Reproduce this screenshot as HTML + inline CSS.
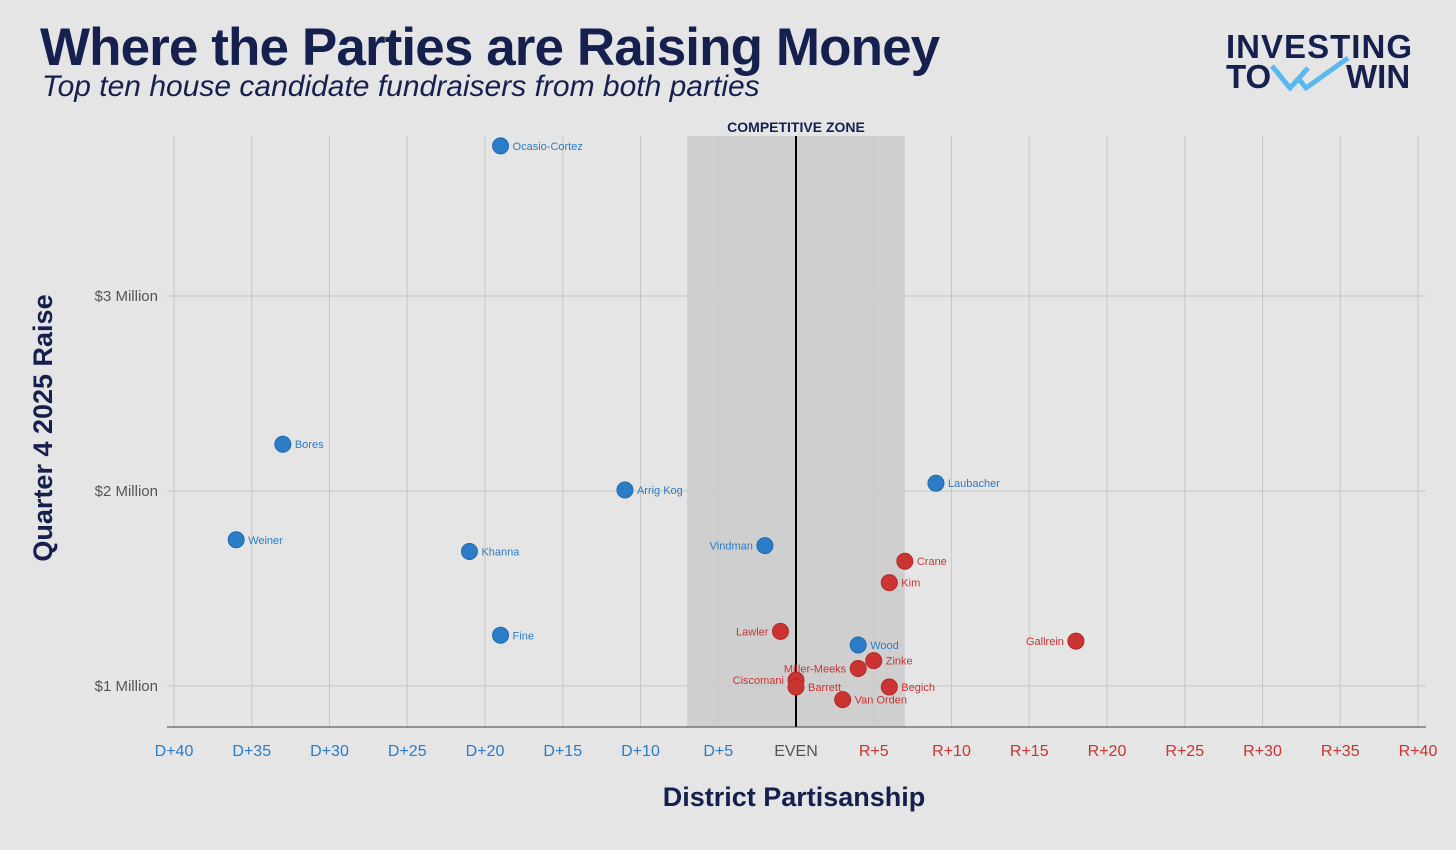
<!DOCTYPE html>
<html><head><meta charset="utf-8"><style>
html,body{margin:0;padding:0;background:#e5e5e5;}
svg{display:block;font-family:"Liberation Sans",sans-serif;}
</style></head><body>
<svg id="chart" width="1456" height="850" viewBox="0 0 1456 850">
<rect width="1456" height="850" fill="#e5e5e5"/>
<text x="40" y="65" font-size="53" font-weight="bold" fill="#16204e" letter-spacing="-0.9">Where the Parties are Raising Money</text>
<text x="42" y="96" font-size="30" font-style="italic" fill="#16204e">Top ten house candidate fundraisers from both parties</text>
<g>
<text x="1226" y="58" font-size="33" font-weight="bold" fill="#16204e" textLength="186">INVESTING</text>
<text x="1226" y="88" font-size="33" font-weight="bold" fill="#16204e">TO</text>
<text x="1346" y="88" font-size="33" font-weight="bold" fill="#16204e">WIN</text>
<path d="M1272 66 L1290 88 L1308 68 M1298 78 L1306 88 L1348 58" fill="none" stroke="#5ab8f0" stroke-width="5"/>
</g>
<g id="grid"></g>
<text id="zoneLabel" font-size="14" font-weight="bold" fill="#16204e" text-anchor="middle">COMPETITIVE ZONE</text>
<g id="axes"></g>
<g id="points"></g>
<text x="794" y="806" font-size="27" font-weight="bold" fill="#16204e" text-anchor="middle">District Partisanship</text>
<text transform="translate(52,428) rotate(-90)" font-size="27" font-weight="bold" fill="#16204e" text-anchor="middle">Quarter 4 2025 Raise</text>
</svg>
<script>
const xTicks=[-40,-35,-30,-25,-20,-15,-10,-5,0,5,10,15,20,25,30,35,40];
const yTicks=[1,2,3];
const names=["Ocasio-Cortez","Bores","Weiner","Khanna","Fine","Arrig Kog","Vindman","Laubacher","Wood","Crane","Kim","Lawler","Gallrein","Zinke","Miller-Meeks","Ciscomani","Barrett","Begich","Van Orden"];
const lean=[-19,-33,-36,-21,-19,-11,-2,9,4,7,6,-1,18,5,4,0,0,6,3];
const raise=[3.77,2.24,1.75,1.69,1.26,2.005,1.72,2.04,1.21,1.64,1.53,1.28,1.23,1.13,1.09,1.03,0.995,0.995,0.93];
const party=["D","D","D","D","D","D","D","D","D","R","R","R","R","R","R","R","R","R","R"];
const labelSide=["r","r","r","r","r","r","l","r","r","r","r","l","l","r","l","l","r","r","r"];
const zoneRange=[-7,7];
const ns="http://www.w3.org/2000/svg";
const X=v=>796+v*15.55;
const Y=v=>686-(v-1)*195;
const yTop=136,yBot=727;
function mk(t,a,p){const e=document.createElementNS(ns,t);for(const k in a)e.setAttribute(k,a[k]);p.appendChild(e);return e;}
const grid=document.getElementById('grid'),axes=document.getElementById('axes'),pts=document.getElementById('points');
const z=mk('rect',{x:X(zoneRange[0]),y:yTop,width:X(zoneRange[1])-X(zoneRange[0]),height:yBot-yTop,fill:'#cfcfcf'},grid);


xTicks.forEach(t=>{
 const l=mk('line',{x1:X(t),x2:X(t),y1:yTop,y2:yBot,stroke:'#c8c8c8','stroke-width':1},grid);
 
 
 const lab=t<0?'D+'+(-t):t>0?'R+'+t:'EVEN';
 const tx=mk('text',{x:X(t),y:756,'font-size':16,'text-anchor':'middle',fill:t<0?'#2a7dc6':t>0?'#cc3333':'#555'},axes);
 tx.textContent=lab;
 
 
});
yTicks.forEach(t=>{
 const l=mk('line',{x1:167,x2:1426,y1:Y(t),y2:Y(t),stroke:'#c8c8c8','stroke-width':1},grid);
 
 
 const tx=mk('text',{x:158,y:Y(t)+5,'font-size':15,'text-anchor':'end',fill:'#555'},axes);
 tx.textContent='$'+t+' Million';
 
 
});
const zl=document.getElementById('zoneLabel');zl.setAttribute('x',X(0));zl.setAttribute('y',132);
const ev=mk('line',{x1:X(0),x2:X(0),y1:yTop,y2:yBot,stroke:'#000','stroke-width':2},axes);


const ax=mk('line',{x1:167,x2:1426,y1:yBot,y2:yBot,stroke:'#444','stroke-width':1},axes);


names.forEach((n,i)=>{
 const c=party[i]==='D'?'#2a7dc6':'#cc3333';
 const cx=X(lean[i]),cy=Y(raise[i]);
 const d=mk('circle',{cx:cx,cy:cy,r:8,fill:c,stroke:party[i]==='D'?'#1f6aaa':'#b02828','stroke-width':1},pts);
 
 
 const left=labelSide[i]==='l';
 const t=mk('text',{x:left?cx-12:cx+12,y:cy+4,'font-size':11,fill:c,'text-anchor':left?'end':'start'},pts);
 t.textContent=n;
 
 
});
</script>
</body></html>
